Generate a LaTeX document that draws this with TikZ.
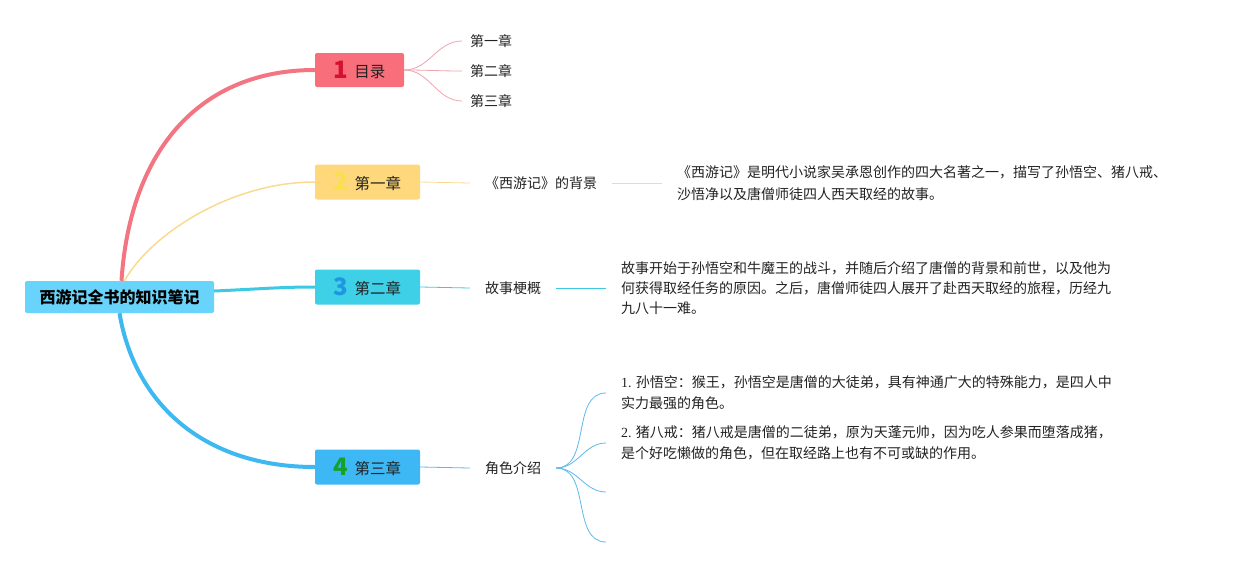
\documentclass[tikz,border=0pt]{standalone}
\usepackage{fontspec}
\setmainfont{Noto Sans CJK SC}
\newfontfamily\latinserif{Liberation Serif}
\definecolor{rootc}{HTML}{68D4FB}
\definecolor{cA}{HTML}{F86E7B}
\definecolor{nA}{HTML}{D6112F}
\definecolor{lA}{HTML}{F47582}
\definecolor{tA}{HTML}{EFA3AD}
\definecolor{cB}{HTML}{FFD87C}
\definecolor{nB}{HTML}{F9E04C}
\definecolor{lB}{HTML}{F8DB8E}
\definecolor{cC}{HTML}{3DD0E6}
\definecolor{nC}{HTML}{1E96E0}
\definecolor{lC}{HTML}{3DC9E3}
\definecolor{cD}{HTML}{3DB8F5}
\definecolor{nD}{HTML}{16A02E}
\definecolor{lD}{HTML}{3DB8F0}
\definecolor{tD}{HTML}{5BB9EC}
\definecolor{txt}{HTML}{222222}
\newcommand\numf{\fontsize{24}{24}\selectfont\bfseries}
\newcommand\chapt[1]{\raisebox{1pt}{\fontsize{15.5}{16}\selectfont #1}}
\begin{document}
\begin{tikzpicture}[x=1pt,y=-1pt,
  font=\fontsize{14}{21}\selectfont,
  rootbox/.style={fill=rootc, rounded corners=2pt, minimum width=189pt, minimum height=32pt, inner sep=0pt, font=\fontsize{16}{16}\selectfont\bfseries},
  chapbox/.style={rounded corners=2pt, minimum width=105pt, minimum height=35pt, inner sep=0pt, text=txt},
  leaf/.style={inner xsep=15pt, inner ysep=2pt, align=left, text=txt},
  subleaf/.style={inner xsep=8pt, inner ysep=2pt, text=txt},
  every to/.style={out=0,in=180}
]
\useasboundingbox (0,0) rectangle (1237,568);

% root and chapters
\node[rootbox] (root) at (119.5,297) {西游记全书的知识笔记};
\node[chapbox, fill=cA, minimum width=89pt, minimum height=34pt] (n1) at (359.5,70) {{\numf\color{nA}1}\hspace{6pt}\chapt{目录}};
\node[chapbox, fill=cB] (n2) at (367.5,182) {{\numf\color{nB}2}\hspace{6pt}\chapt{第一章}};
\node[chapbox, fill=cC] (n3) at (367.5,287) {{\numf\color{nC}3}\hspace{6pt}\chapt{第二章}};
\node[chapbox, fill=cD] (n4) at (367.5,467) {{\numf\color{nD}4}\hspace{6pt}\chapt{第三章}};

% chapter 1 children
\node[subleaf, anchor=west] (s1) at (462,41) {第一章};
\node[subleaf, anchor=west] (s2) at (462,71) {第二章};
\node[subleaf, anchor=west] (s3) at (462,101) {第三章};

% chapter 2
\node[leaf] (b1) at (541,183) {《西游记》的背景};
\node[leaf, anchor=west] (b2) at (662,183) {《西游记》是明代小说家吴承恩创作的四大名著之一，描写了孙悟空、猪八戒、\\[1pt]沙悟净以及唐僧师徒四人西天取经的故事。};

% chapter 3
\node[leaf] (c1) at (513,288) {故事梗概};
\node[leaf, anchor=west] (c2) at (606,288) {故事开始于孙悟空和牛魔王的战斗，并随后介绍了唐僧的背景和前世，以及他为\\[-1pt]何获得取经任务的原因。之后，唐僧师徒四人展开了赴西天取经的旅程，历经九\\[-1pt]九八十一难。};

% chapter 4
\node[leaf] (d1) at (513,468) {角色介绍};
\node[leaf, anchor=west] (d2) at (606,393) {{\latinserif 1.} 孙悟空：猴王，孙悟空是唐僧的大徒弟，具有神通广大的特殊能力，是四人中\\实力最强的角色。};
\node[leaf, anchor=west] (d3) at (606,443) {{\latinserif 2.} 猪八戒：猪八戒是唐僧的二徒弟，原为天蓬元帅，因为吃人参果而堕落成猪，\\是个好吃懒做的角色，但在取经路上也有不可或缺的作用。};
\coordinate (d4) at (606,492);
\coordinate (d5) at (606,542);

% main branches
\draw[lA, line width=4pt] ([xshift=2pt]root.north) .. controls (130,150) and (200,70) .. (n1.west);
\draw[lB, line width=1.5pt] ([xshift=5pt]root.north) .. controls (150,235) and (230,182) .. (n2.west);
\draw[lC, line width=3pt] ([yshift=6pt]root.east) .. controls (260,289) and (280,287) .. (n3.west);
\draw[lD, line width=4pt] (root.south) .. controls (135,405) and (205,467) .. (n4.west);

% sub connectors
\draw[tA, line width=0.8pt] (n1.east) to (s1.west);
\draw[tA, line width=0.8pt] (n1.east) to (s2.west);
\draw[tA, line width=0.8pt] (n1.east) to (s3.west);
\draw[lB, line width=0.8pt] (n2.east) -- (b1.west);
\draw[lB, line width=0.8pt] (b1.east) -- (b2.west);
\draw[lC, line width=0.8pt] (n3.east) -- (c1.west);
\draw[lC, line width=0.8pt] (c1.east) -- (c2.west);
\draw[tD, line width=0.8pt] (n4.east) -- (d1.west);
\draw[tD, line width=0.8pt] (d1.east) to (d2.west);
\draw[tD, line width=0.8pt] (d1.east) to (d3.west);
\draw[tD, line width=0.8pt] (d1.east) to (d4);
\draw[tD, line width=0.8pt] (d1.east) to (d5);
\end{tikzpicture}
\end{document}
